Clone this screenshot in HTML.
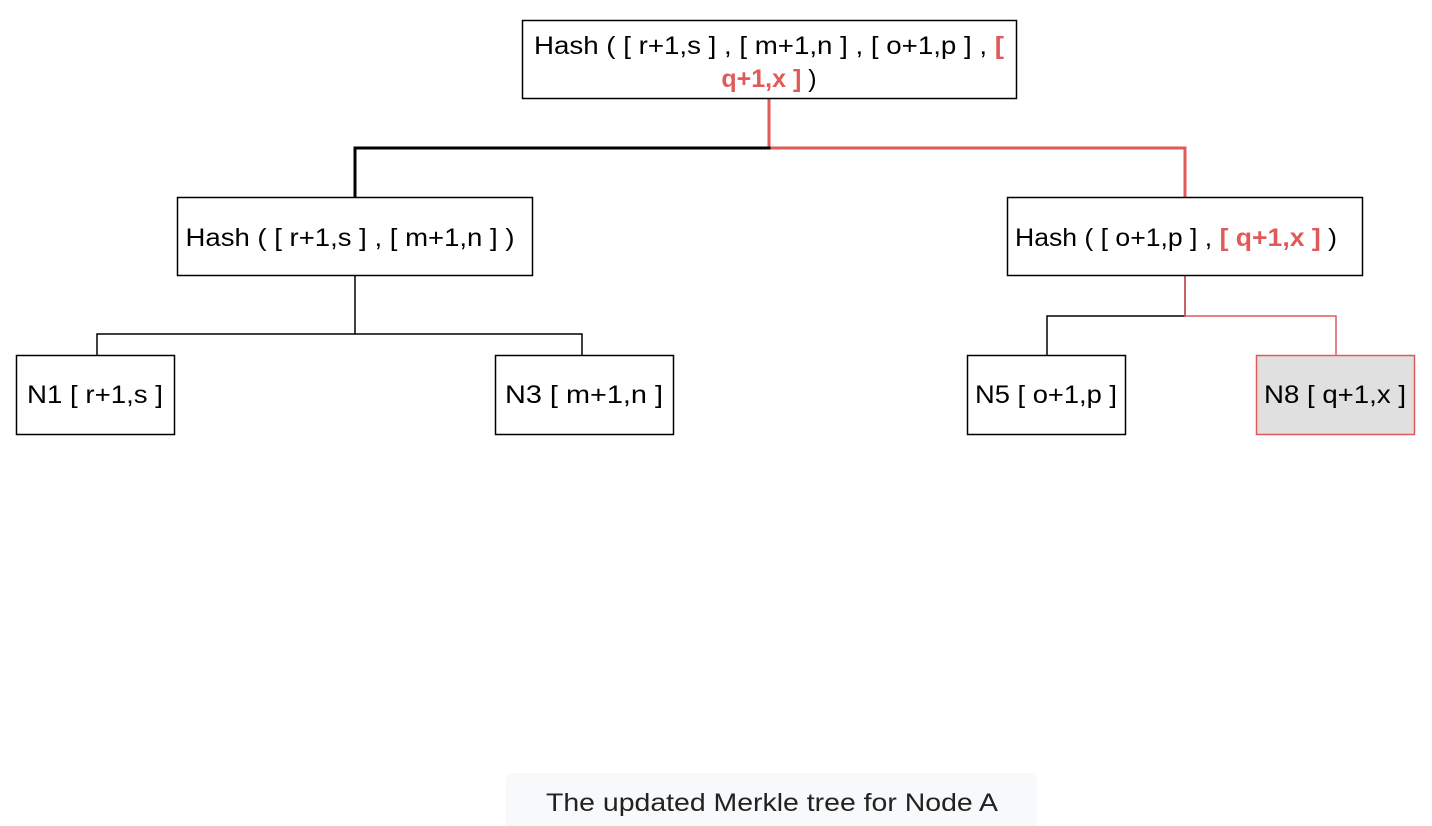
<!DOCTYPE html>
<html><head><style>
body{margin:0;background:#fff;width:1432px;height:826px;overflow:hidden;font-family:"Liberation Sans",Arial,sans-serif}
</style></head><body>
<svg width="1432" height="826" xmlns="http://www.w3.org/2000/svg" style="position:absolute;left:0;top:0" font-family="Liberation Sans, Arial, sans-serif">
<g fill="none" stroke-linecap="square">
<path d="M769 99 V148 H1185 V197" stroke="#e05a5a" stroke-width="3"/>
<path d="M769 148 H355 V197" stroke="#000" stroke-width="3"/>
<path d="M355 276 V334 M97 334 H582 M97 334 V355 M582 334 V355" stroke="#000" stroke-width="1.5"/>
<path d="M1185 276 V316 H1047 V355" stroke="#000" stroke-width="1.5"/>
<path d="M1185 276 V316 H1336 V355" stroke="#e05a5a" stroke-width="1.5"/>
</g>
<g stroke="#000" stroke-width="1.5" fill="#fff">
<rect x="522.5" y="20.5" width="494" height="78"/>
<rect x="177.5" y="197.5" width="355" height="78"/>
<rect x="1007.5" y="197.5" width="355" height="78"/>
<rect x="16.5" y="355.5" width="158" height="79"/>
<rect x="495.5" y="355.5" width="178" height="79"/>
<rect x="967.5" y="355.5" width="158" height="79"/>
<rect x="1256.5" y="355.5" width="158" height="79" fill="#e0e0e0" stroke="#e05a5a"/>
</g>
<g font-size="25" fill="#000" text-anchor="middle">
<text x="769" y="54" textLength="470" lengthAdjust="spacingAndGlyphs">Hash ( [ r+1,s ] , [ m+1,n ] , [ o+1,p ] , <tspan fill="#e05a5a" font-weight="bold">[</tspan></text>
<text x="769" y="87"><tspan fill="#e05a5a" font-weight="bold">q+1,x ]</tspan> )</text>
<text x="350" y="246" textLength="329" lengthAdjust="spacingAndGlyphs">Hash ( [ r+1,s ] , [ m+1,n ] )</text>
<text x="1176" y="246" textLength="322" lengthAdjust="spacingAndGlyphs">Hash ( [ o+1,p ] , <tspan fill="#e05a5a" font-weight="bold">[ q+1,x ]</tspan> )</text>
<text x="95" y="403" textLength="136" lengthAdjust="spacingAndGlyphs">N1 [ r+1,s ]</text>
<text x="584" y="403" textLength="158" lengthAdjust="spacingAndGlyphs">N3 [ m+1,n ]</text>
<text x="1046" y="403" textLength="142" lengthAdjust="spacingAndGlyphs">N5 [ o+1,p ]</text>
<text x="1335" y="403" textLength="142" lengthAdjust="spacingAndGlyphs">N8 [ q+1,x ]</text>
</g>
<rect x="506" y="773" width="531" height="60" rx="6" fill="#f8f9fa"/>
<text x="772" y="811" font-size="25" text-anchor="middle" fill="#222" textLength="452" lengthAdjust="spacingAndGlyphs">The updated Merkle tree for Node A</text>
</svg>
</body></html>
